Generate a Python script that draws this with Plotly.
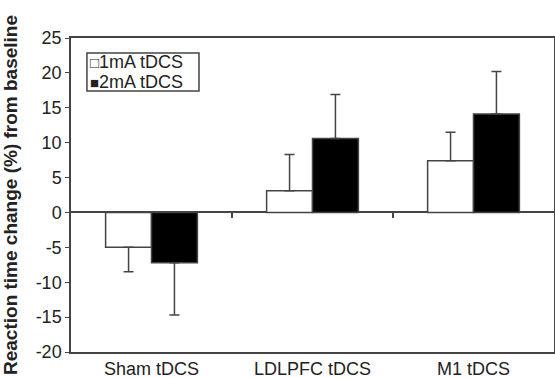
import plotly.graph_objects as go

categories = ["Sham tDCS", "LDLPFC tDCS", "M1 tDCS"]
series_names = ["1mA tDCS", "2mA tDCS"]
values_1mA = [-5.0, 3.1, 7.4]
values_2mA = [-7.2, 10.6, 14.1]
err_1mA = [3.5, 5.2, 4.1]
err_2mA = [7.5, 6.3, 6.1]
y_ticks = [-20, -15, -10, -5, 0, 5, 10, 15, 20, 25]
y_range = [-20, 25]

x_idx = list(range(len(categories)))
font_family = "Liberation Sans, Arial, sans-serif"
dark = "#444444"
text_col = "#222222"


def err_up(vals, errs):
    return [e if v >= 0 else 0 for v, e in zip(vals, errs)]


def err_down(vals, errs):
    return [e if v < 0 else 0 for v, e in zip(vals, errs)]


fig = go.Figure()
for name, vals, errs, fill in [
    (series_names[0], values_1mA, err_1mA, "white"),
    (series_names[1], values_2mA, err_2mA, "black"),
]:
    fig.add_trace(go.Bar(
        x=x_idx, y=vals, name=name, showlegend=False,
        marker=dict(color=fill, line=dict(color=dark, width=1.5)),
        error_y=dict(type="data", symmetric=False,
                     array=err_up(vals, errs), arrayminus=err_down(vals, errs),
                     color=dark, thickness=1.5, width=5),
    ))

# legend drawn as a bordered box with two text lines
fig.add_shape(type="rect", xref="paper", yref="paper",
              x0=0.033, x1=0.265, y0=0.831, y1=0.952,
              line=dict(color=dark, width=1.5), fillcolor="white", layer="above")
for sym, name, ypos in zip(["\u25a1", "\u25a0"], series_names, [0.922, 0.861]):
    fig.add_annotation(
        xref="paper", yref="paper", x=0.036, y=ypos, xanchor="left", yanchor="middle",
        text=f"<span style='font-size:15px'>{sym}</span>{name}", showarrow=False,
        font=dict(size=18, color=text_col),
    )

bounds = [i + 0.5 for i in x_idx[:-1]]
zero_pos = (0 - y_range[0]) / (y_range[1] - y_range[0])

fig.update_layout(
    width=555, height=378,
    margin=dict(l=71, r=1, t=38, b=26),
    paper_bgcolor="white", plot_bgcolor="white",
    font=dict(family=font_family, size=18, color=text_col),
    barmode="group", bargap=0.43, bargroupgap=0,
    xaxis=dict(
        tickvals=x_idx, ticktext=categories, range=[-0.5, len(categories) - 0.5],
        showline=True, linecolor=dark, linewidth=1.5, mirror=True,
        ticks="", showgrid=False, zeroline=False, automargin=False,
    ),
    xaxis2=dict(
        overlaying="x", anchor="free", position=zero_pos, side="bottom",
        range=[-0.5, len(categories) - 0.5], tickvals=bounds, showticklabels=False,
        ticks="outside", ticklen=5, tickwidth=1.5, tickcolor=dark,
        showline=False, showgrid=False, zeroline=False, automargin=False,
    ),
    yaxis=dict(
        range=y_range, tickvals=y_ticks, ticktext=[str(t) for t in y_ticks],
        showline=True, linecolor=dark, linewidth=1.5, mirror=True,
        ticks="outside", ticklen=4, tickcolor=dark, showgrid=False,
        zeroline=True, zerolinecolor=dark, zerolinewidth=1.5, automargin=False,
        title=dict(text="<b>Reaction time change (%) from baseline</b>",
                   font=dict(size=19)),
    ),
)
fig.add_trace(go.Scatter(x=bounds, y=[0] * len(bounds), xaxis="x2", mode="markers",
                         marker=dict(opacity=0), showlegend=False, hoverinfo="skip"))

fig.write_html("out.html", config={"displayModeBar": False},
               post_script="document.body.style.margin='0px';")
